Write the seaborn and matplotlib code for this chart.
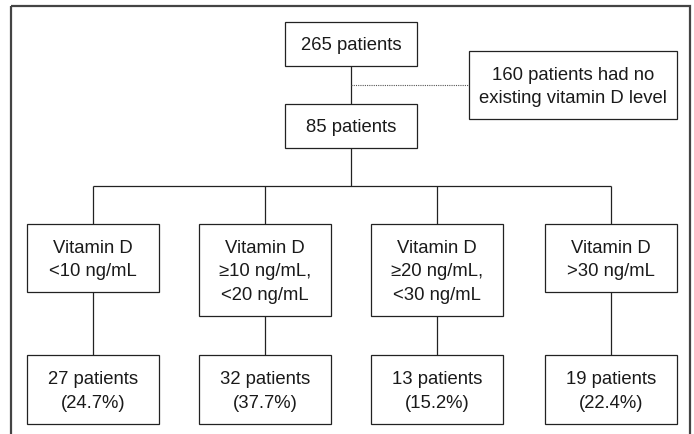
import matplotlib.pyplot as plt
import seaborn as sns
from matplotlib.patches import Rectangle

# Textos y valores del diagrama de flujo
total_label = "265 patients"
excluidos_label = "160 patients had no\nexisting vitamin D level"
incluidos_label = "85 patients"
grupos = ["Vitamin D\n<10 ng/mL",
          "Vitamin D\n\u226510 ng/mL,\n<20 ng/mL",
          "Vitamin D\n\u226520 ng/mL,\n<30 ng/mL",
          "Vitamin D\n>30 ng/mL"]
pacientes = [27, 32, 13, 19]
porcentajes = [24.7, 37.7, 15.2, 22.4]

sns.set_theme(style="white")
plt.rcParams['font.family'] = ['Liberation Sans', 'DejaVu Sans']

COLOR = "#222222"
FS = 13.3
LS = 1.5

fig = plt.figure(figsize=(6.94, 4.35), dpi=100)
ax = fig.add_axes([0, 0, 1, 1])
ax.set_xlim(0, 694)
ax.set_ylim(435, 0)
ax.axis("off")


def caja(x0, y0, x1, y1, texto):
    ax.add_patch(Rectangle((x0, y0), x1 - x0, y1 - y0, fill=False,
                           edgecolor=COLOR, linewidth=0.9))
    ax.text((x0 + x1) / 2, (y0 + y1) / 2 + 1, texto, ha="center", va="center",
            fontsize=FS, color="#1a1a1a", linespacing=LS)


def linea(xs, ys, **kw):
    ax.plot(xs, ys, color=COLOR, linewidth=0.9, solid_capstyle="butt", **kw)


# Marco exterior (abierto por abajo)
ax.add_patch(Rectangle((11, 7), 679, 500, fill=False, edgecolor="#444444",
                       linewidth=1.6, clip_on=True))

# Parte superior
caja(285, 23, 417, 67, total_label)
caja(469, 52, 677, 120, excluidos_label)
caja(285, 105, 417, 149, incluidos_label)
linea([351, 351], [67, 105])
ax.plot([351, 469], [86, 86], color="#555555", linewidth=0.8, linestyle=(0, (1, 1)))
linea([351, 351], [149, 187])

# Ramas
centros = [93, 265, 437, 611]
alto_grupo = [293 if g.count("\n") == 1 else 317 for g in grupos]
linea([centros[0], centros[-1]], [187, 187])
for cx, g, yb, n, p in zip(centros, grupos, alto_grupo, pacientes, porcentajes):
    linea([cx, cx], [187, 225])
    caja(cx - 66, 225, cx + 66, yb, g)
    linea([cx, cx], [yb, 356])
    caja(cx - 66, 356, cx + 66, 425, f"{n} patients\n({p}%)")

fig.savefig("out.png", dpi=100)
